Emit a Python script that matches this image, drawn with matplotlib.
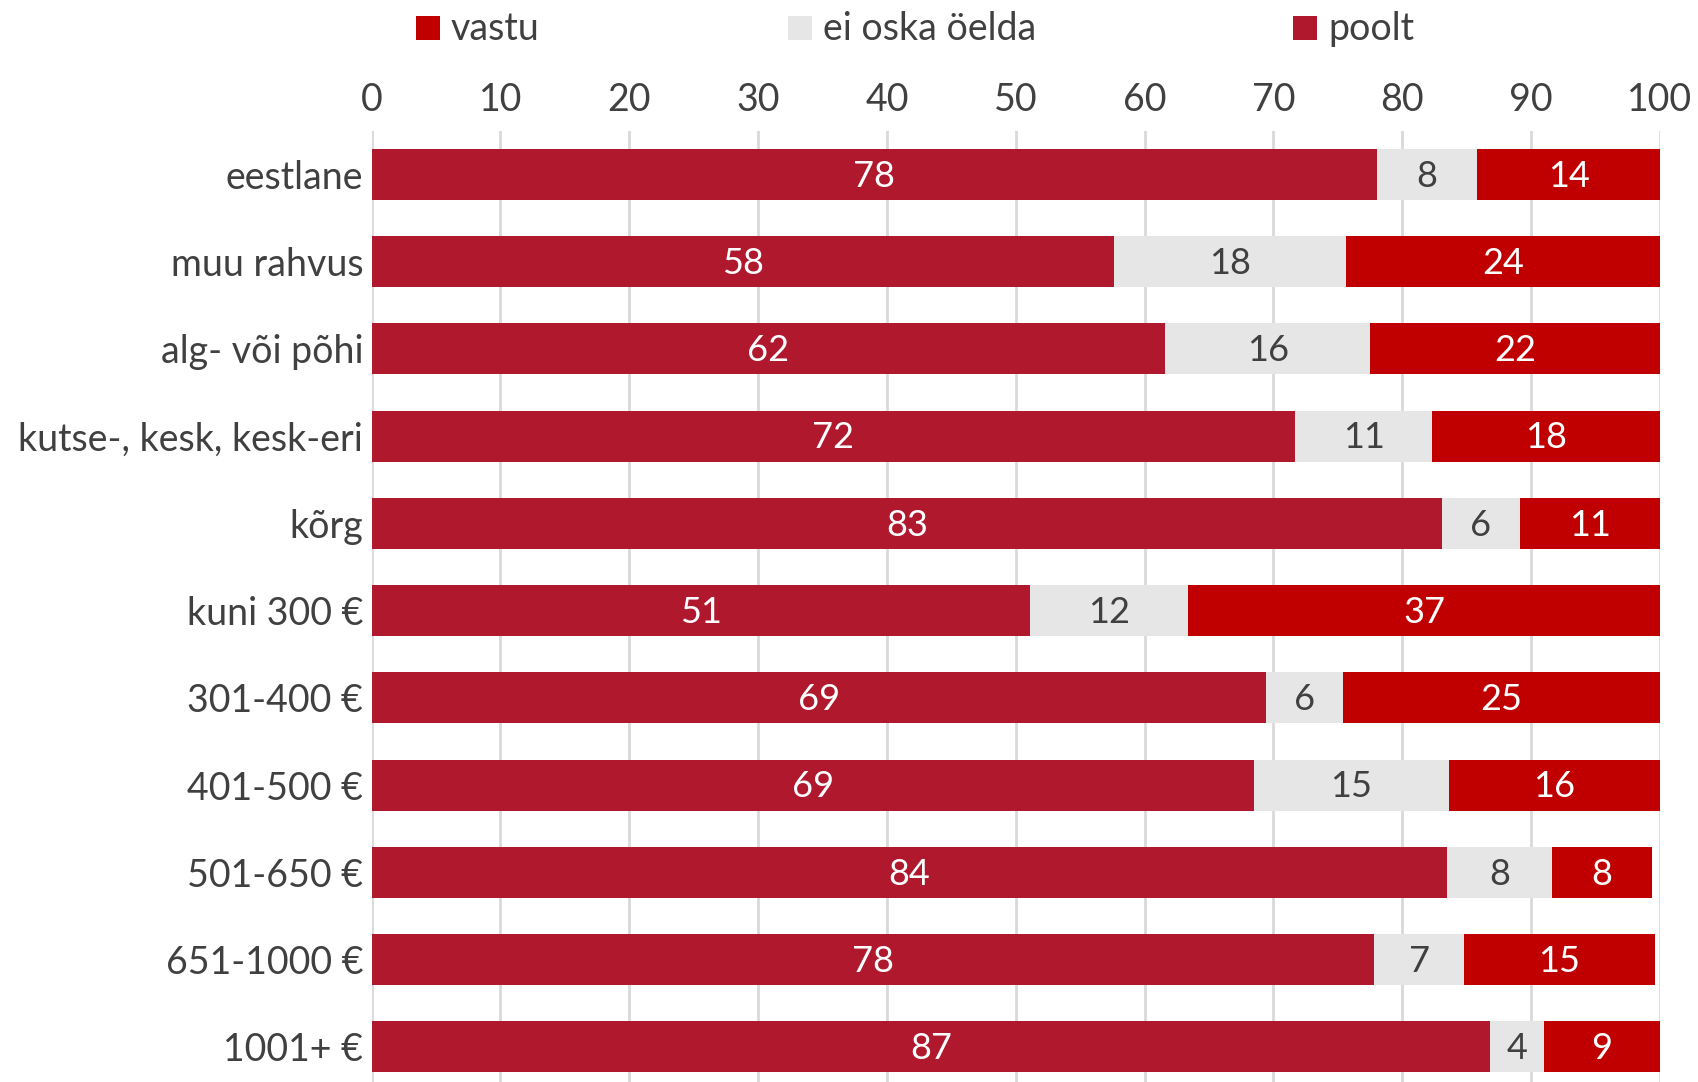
import matplotlib.pyplot as plt
import numpy as np
from matplotlib.patches import Rectangle

plt.rcParams['font.family'] = ['Lato', 'DejaVu Sans']

# groups, top to bottom
categories = ['eestlane', 'muu rahvus', 'alg- või põhi', 'kutse-, kesk, kesk-eri', 'kõrg',
              'kuni 300 €', '301-400 €', '401-500 €', '501-650 €', '651-1000 €', '1001+ €']

# segment widths (percent)
vastu = [78.0, 57.6, 61.6, 71.7, 83.1, 51.1, 69.4, 68.5, 83.5, 77.8, 86.8]
ei_oska = [7.8, 18.0, 15.9, 10.6, 6.0, 12.3, 6.0, 15.1, 8.1, 7.0, 4.2]
poolt = [14.2, 24.4, 22.5, 17.7, 10.9, 36.6, 24.6, 16.4, 7.8, 14.8, 9.0]

# rounded labels as printed on the bars
vastu_lbl = [78, 58, 62, 72, 83, 51, 69, 69, 84, 78, 87]
ei_oska_lbl = [8, 18, 16, 11, 6, 12, 6, 15, 8, 7, 4]
poolt_lbl = [14, 24, 22, 18, 11, 37, 25, 16, 8, 15, 9]

DARK = '#B0182D'
RED = '#C00000'
GRAY = '#E6E6E6'
TXT = '#404040'

fig = plt.figure(figsize=(16.98, 10.82), dpi=100)
ax = fig.add_axes([371.5 / 1698, -8.6 / 1082, (1660 - 371.5) / 1698, (1090.6 - 130.7) / 1082])

y = np.arange(len(categories))
h = 0.585
left = np.zeros(len(categories))
for vals, lbls, col, tcol in [(vastu, vastu_lbl, DARK, 'white'),
                              (ei_oska, ei_oska_lbl, GRAY, TXT),
                              (poolt, poolt_lbl, RED, 'white')]:
    vals = np.array(vals)
    ax.barh(y, vals, left=left, height=h, color=col, zorder=3)
    for yi, l, v, t in zip(y, left, vals, lbls):
        ax.text(l + v / 2, yi + 0.02, str(t), ha='center', va='center', color=tcol,
                fontsize=26, zorder=4)
    left = left + vals

ax.set_xlim(0, 100)
ax.set_ylim(len(categories) - 0.5, -0.5)
ax.set_xticks(range(0, 101, 10))
ax.xaxis.tick_top()
ax.set_yticks(y)
ax.set_yticklabels(categories)
ax.tick_params(axis='both', length=0, labelsize=27, colors=TXT, pad=6)
ax.tick_params(axis='x', pad=9)
ax.grid(axis='x', color='#D9D9D9', linewidth=2, zorder=0)
for s in ax.spines.values():
    s.set_visible(False)

# legend, drawn by hand to keep the original spacing
legend = [('vastu', RED, 416), ('ei oska öelda', GRAY, 788), ('poolt', DARK, 1293)]
for name, col, xp in legend:
    fig.patches.append(Rectangle(((xp) / 1698, 1 - 40 / 1082), 24 / 1698, 24 / 1082,
                                 transform=fig.transFigure, facecolor=col, edgecolor='none'))
    fig.text((xp + 35) / 1698, 1 - 29 / 1082, name, ha='left', va='center',
             fontsize=27, color=TXT)

fig.savefig('out.png', dpi=100)
